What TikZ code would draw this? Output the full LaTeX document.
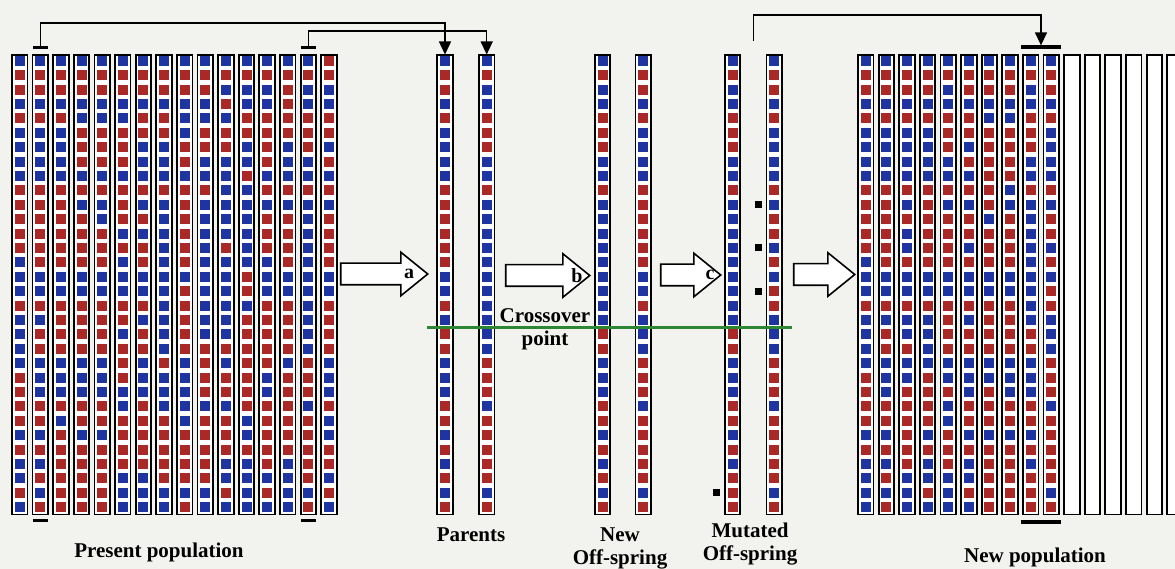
\documentclass[tikz,border=0pt]{standalone}
\usepackage{fontspec}
\setmainfont{Liberation Serif}
\usetikzlibrary{shapes.arrows, arrows.meta, positioning, calc}

\definecolor{paper}{RGB}{242,242,238}
\definecolor{genblue}{RGB}{30,52,160}
\definecolor{genred}{RGB}{170,40,38}
\definecolor{xline}{RGB}{45,135,50}

% one chromosome: name, centre x, list of genes (b/r)
\newcommand{\chromo}[3]{%
  \node[chrom] (#1) at ({#2}, 284.9) {};
  \foreach \g [count=\k from 0] in #3
    \fill[gene \g] ([xshift=-5pt, yshift=-1.3pt-14.4pt*\k]#1.north) rectangle ++(10pt,-10pt);
}
% small square beside a mutated gene
\newcommand{\mutate}[2]{%
  \fill ([xshift=-11pt, yshift=-2.8pt-14.4pt*#2]#1.north west) rectangle ++(7pt,-7pt);
}

\def\parA{b,r,r,b,r,b,b,b,b,r,r,r,r,r,r,b,b,r,b,r,r,b,b,b,r,r,b,r,b,r,b,r}
\def\parB{b,r,b,b,r,r,r,b,b,r,b,b,b,b,b,b,b,b,b,b,b,r,r,r,b,r,r,r,r,r,b,r}
\def\offA{b,r,b,b,r,r,r,b,b,r,b,b,b,b,b,b,b,b,b,r,r,b,b,b,r,r,b,r,b,r,b,r}
\def\offB{b,r,r,b,r,b,b,b,b,r,r,r,r,r,r,b,b,r,b,b,b,r,r,r,b,r,r,r,r,r,b,r}
\def\mutA{b,r,b,b,r,r,r,b,b,r,b,b,b,b,b,b,b,b,b,r,r,b,b,b,r,r,b,r,b,r,r,r}
\def\mutB{b,r,r,b,r,b,b,b,b,r,b,r,r,b,r,b,r,r,b,b,b,r,r,r,b,r,r,r,r,r,b,r}

\begin{document}
\begin{tikzpicture}[x=1pt, y=-1pt,
    chrom/.style={draw, line width=1.8pt, fill=white, inner sep=0pt,
        minimum width=15.5pt, minimum height=459pt},
    gene b/.style={fill=genblue},
    gene r/.style={fill=genred},
    lbl/.style={font=\fontsize{21}{23}\selectfont\bfseries, align=center},
    arrlbl/.style={font=\fontsize{20}{22}\selectfont\bfseries, inner sep=0pt},
    blockarr/.style={single arrow, draw, line width=1.6pt, fill=white, anchor=tip,
        inner xsep=0pt, inner ysep=10pt, minimum width=42pt,
        single arrow head extend=11pt, single arrow tip angle=78},
    pick/.style={line width=1.4pt,
        {Bar[width=15pt,line width=3pt]}-{Triangle[width=12pt,length=13pt]}},
    selbar/.style={line width=3.5pt},
]
\useasboundingbox (0,0) rectangle (1175,569);
\clip (0,0) rectangle (1175,569);
\fill[paper] (0,0) rectangle (1175,569);

% --- Present population ---
\foreach \genes [count=\j from 0] in {
    {b,r,r,b,r,b,b,b,b,r,r,r,r,r,b,b,b,r,b,b,b,b,r,r,r,r,b,r,b,b,r,b},
    {b,r,r,b,r,b,b,b,b,r,r,r,r,r,r,b,b,r,b,r,r,b,b,b,r,r,b,r,b,r,b,r},
    {b,r,r,b,r,b,b,b,b,r,r,r,r,r,r,b,b,r,r,r,r,b,b,b,r,b,r,r,r,r,r,r},
    {b,r,r,b,b,r,r,r,b,r,b,r,r,r,r,b,b,r,r,r,r,b,b,b,r,r,b,r,r,r,r,r},
    {b,r,r,b,b,r,r,r,b,r,b,b,r,r,r,b,b,r,r,r,r,b,b,b,r,r,b,r,r,r,r,r},
    {b,r,r,b,b,r,r,r,b,r,r,r,b,r,b,b,b,r,r,b,r,r,r,b,b,r,r,r,r,b,b,b},
    {b,r,r,b,r,r,b,b,b,r,b,r,b,r,r,b,b,r,b,r,r,b,b,b,r,r,r,r,r,b,b,b},
    {b,r,r,b,r,r,b,b,b,r,b,b,b,b,b,b,b,b,b,b,b,r,b,b,b,r,r,r,r,r,b,b},
    {b,r,r,b,b,b,r,r,b,r,r,r,r,r,r,b,r,r,r,r,r,b,b,b,b,b,r,r,r,r,b,r},
    {b,r,r,b,b,r,r,b,b,r,b,b,b,b,b,b,b,b,b,b,r,r,r,r,b,r,r,r,r,r,b,b},
    {b,r,b,r,b,r,r,b,b,b,b,b,b,r,b,b,b,b,b,b,r,b,r,r,b,r,r,r,b,b,r,b},
    {b,r,b,b,r,r,b,b,r,b,b,b,b,b,b,r,r,b,r,r,r,r,r,r,r,b,b,r,b,b,b,b},
    {b,r,b,b,r,r,r,r,b,r,b,r,r,r,b,b,b,r,r,r,r,r,b,b,r,r,r,r,r,b,r,b},
    {b,r,r,r,r,r,b,b,b,r,b,r,r,r,r,b,b,r,r,r,r,b,r,r,r,r,r,r,b,b,b,b},
    {b,r,b,b,r,r,r,b,b,r,b,b,b,b,b,b,b,b,b,b,b,r,r,r,b,r,r,r,r,r,b,r},
    {r,r,b,b,r,r,b,r,b,r,b,r,r,r,r,b,b,r,r,r,r,b,b,b,r,b,b,r,r,b,r,b}}
  {\chromo{pop-\j}{19.7+20.62*\j}{\genes}}

% --- Parents, offspring, mutated offspring ---
\chromo{par-1}{445}{\parA}
\chromo{par-2}{486.7}{\parB}
\chromo{off-1}{602.5}{\offA}
\chromo{off-2}{643.3}{\offB}
\chromo{mut-1}{732.5}{\mutA}
\chromo{mut-2}{774.2}{\mutB}

% --- New population: kept members, the mutated pair, then empty slots ---
\foreach \genes [count=\j from 0] in {
    {b,r,r,b,r,b,b,b,b,r,r,r,r,r,b,b,b,r,b,b,b,b,r,r,r,r,b,r,b,b,b,b},
    {b,r,r,b,r,b,b,b,b,r,r,r,r,r,r,b,b,r,b,r,r,b,b,b,r,r,b,r,b,r,b,r},
    {b,r,r,b,r,b,b,b,b,r,b,r,b,b,r,b,b,r,b,b,r,b,b,r,r,r,r,r,r,b,b,b},
    {b,r,r,b,r,b,b,b,b,r,r,r,r,r,r,b,b,r,b,b,b,b,r,r,r,r,b,r,b,b,r,b},
    {b,r,b,b,r,r,r,b,b,r,b,r,r,r,r,b,b,r,r,r,r,b,b,r,b,b,r,r,r,b,b,b},
    {b,r,r,b,r,r,b,r,b,r,b,r,r,b,r,b,b,r,b,r,r,b,b,b,r,r,b,r,b,b,r,b},
    {b,r,r,b,b,r,r,r,r,r,r,b,r,r,r,b,b,r,r,r,r,b,b,r,r,r,b,r,r,r,r,r},
    {b,r,r,b,b,r,r,r,r,b,b,r,r,r,r,b,b,r,r,r,r,b,b,b,r,r,b,r,r,r,r,r}}
  {\chromo{new-\j}{865.8+20.61*\j}{\genes}}
\chromo{new-8}{865.8+20.61*8}{\mutA}
\chromo{new-9}{865.8+20.61*9}{\mutB}
\foreach \j in {10,...,15}
  \node[chrom] (new-\j) at ({865.8+20.61*\j}, 284.9) {};

% --- Mutations ---
\mutate{mut-2}{10}
\mutate{mut-2}{13}
\mutate{mut-2}{16}
\mutate{mut-1}{30}

% --- Step arrows (placed by their tips) ---
\node[blockarr, minimum height=87pt] (arr-a) at (429, 274) {};
\node[blockarr, minimum height=84pt] (arr-b) at (591, 275.5) {};
\node[blockarr, minimum height=60pt] (arr-c) at (722, 275) {};
\node[blockarr, minimum height=61pt] (arr-d) at (856, 274.5) {};
\node[arrlbl] (lbl-a) at ([xshift=-20pt]arr-a.tip) {a};
\node[arrlbl] (lbl-b) at ([xshift=-14pt]arr-b.tip) {b};
\node[arrlbl] (lbl-c) at ([xshift=-12pt]arr-c.tip) {c};

% --- Selection of the parents ---
\coordinate (sel-1) at ([yshift=5.4pt]pop-1.north);
\coordinate (sel-2) at ([yshift=5.4pt]pop-14.north);
\draw[pick] (sel-1) -- ++(0,-26) -| (par-1.north);
\draw[pick] (sel-2) -- ++(0,-18) -| (par-2.north);
\draw[selbar, line width=3pt] ([xshift=-7.5pt, yshift=-5pt]pop-1.south) -- ++(15pt,0);
\draw[selbar, line width=3pt] ([xshift=-7.5pt, yshift=-5pt]pop-14.south) -- ++(15pt,0);

% --- Insertion into the new population ---
\coordinate (ins) at ($(new-8.north)!0.5!(new-9.north)+(0,-7.4)$);
\coordinate (ins-low) at ($(new-8.south)!0.5!(new-9.south)+(0,6.5)$);
\coordinate (mut-out) at ($(mut-1.north)!0.5!(mut-2.north)+(0,-13.4)$);
\draw[selbar] ([xshift=-20pt]ins) -- ([xshift=20pt]ins);
\draw[selbar] ([xshift=-20pt]ins-low) -- ([xshift=20pt]ins-low);
\draw[line width=1.4pt, -{Triangle[width=12pt,length=13pt]}]
    (mut-out) -- ++(0,-26) -| ([yshift=1.75pt]ins);

% --- Crossover ---
\coordinate (xo-l) at (427, 327.5);
\coordinate (xo-r) at (792, 327.5);
\draw[xline, line width=2.5pt] (xo-l) -- (xo-r);
\node[lbl] (lbl-xo) at (545, 329) {Crossover\\point};

% --- Captions ---
\node[lbl] (lbl-pop) at (159, 552) {Present population};
\node[lbl] (lbl-par) at (471, 535) {Parents};
\node[lbl] (lbl-off) at (620, 548.5) {New\\Off-spring};
\node[lbl] (lbl-mut) at (750, 544.5) {Mutated\\Off-spring};
\node[lbl] (lbl-new) at (1035, 557) {New population};

\end{tikzpicture}
\end{document}
